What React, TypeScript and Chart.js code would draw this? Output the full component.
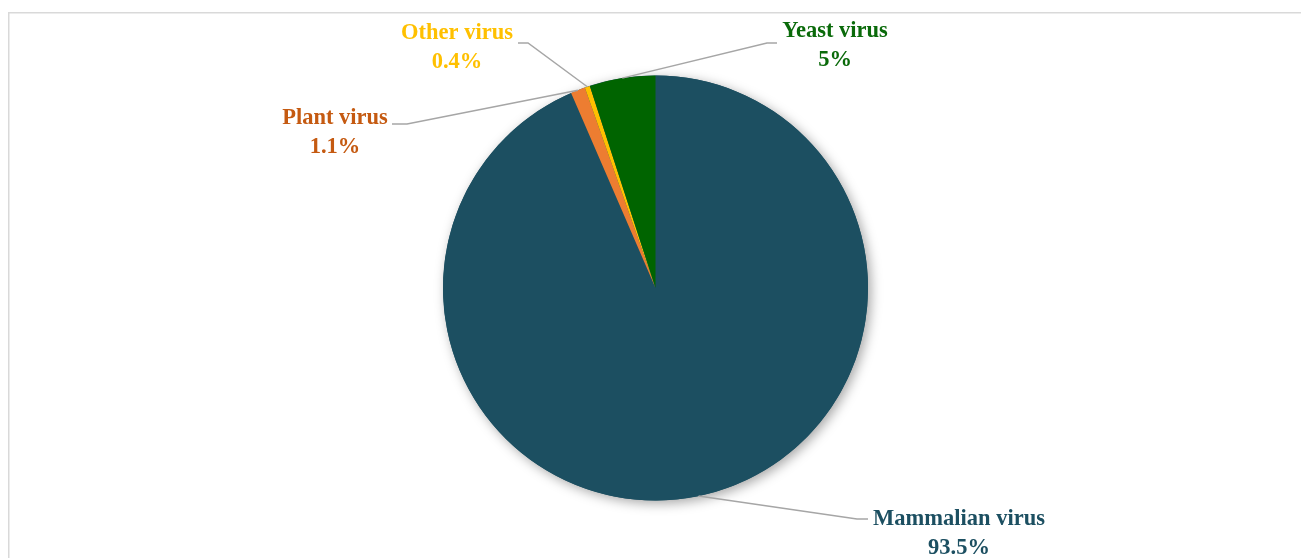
import React, { useEffect, useRef } from "react";
import { Chart, registerables } from "chart.js";

Chart.register(...registerables);

const categories = ["Mammalian virus", "Plant virus", "Other virus", "Yeast virus"];
const values = [93.5, 1.1, 0.4, 5];
const valueLabels = ["93.5%", "1.1%", "0.4%", "5%"];

const sliceColors = ["#1C4F61", "#ED7D31", "#FFC000", "#006400"];
const labelColors = ["#1C4F61", "#C55A11", "#FFC000", "#0A6A0A"];

// label placement (elbow point, end of horizontal leader, text centre)
const labelLayout = [
  { ex: 857, ey: 519, hx: 868, tx: 959, ty: 519 },
  { ex: 407, ey: 124, hx: 392, tx: 335, ty: 118 },
  { ex: 528, ey: 43, hx: 518, tx: 457, ty: 33 },
  { ex: 767, ey: 43, hx: 777, tx: 835, ty: 31 },
];

const framePlugin = {
  id: "frame",
  beforeDraw(chart: any) {
    const ctx = chart.ctx;
    ctx.save();
    ctx.fillStyle = "#ffffff";
    ctx.fillRect(0, 0, chart.width, chart.height);
    ctx.strokeStyle = "#D9D9D9";
    ctx.lineWidth = 1.5;
    ctx.strokeRect(8.75, 12.75, 1500, 800);
    ctx.restore();
  },
  beforeDatasetsDraw(chart: any) {
    const meta = chart.getDatasetMeta(0);
    const arc = meta.data[0];
    if (!arc) return;
    const ctx = chart.ctx;
    ctx.save();
    ctx.shadowColor = "rgba(0,0,0,0.35)";
    ctx.shadowBlur = 12;
    ctx.shadowOffsetX = 3;
    ctx.shadowOffsetY = 3;
    ctx.fillStyle = sliceColors[0];
    ctx.beginPath();
    ctx.arc(arc.x, arc.y, arc.outerRadius, 0, Math.PI * 2);
    ctx.fill();
    ctx.restore();
  },
  afterDatasetsDraw(chart: any) {
    const meta = chart.getDatasetMeta(0);
    const ctx = chart.ctx;
    ctx.save();
    meta.data.forEach((arc: any, i: number) => {
      const mid = (arc.startAngle + arc.endAngle) / 2;
      const sx = arc.x + Math.cos(mid) * arc.outerRadius;
      const sy = arc.y + Math.sin(mid) * arc.outerRadius;
      const L = labelLayout[i];
      ctx.strokeStyle = "#A6A6A6";
      ctx.lineWidth = 1.5;
      ctx.beginPath();
      ctx.moveTo(sx, sy);
      ctx.lineTo(L.ex, L.ey);
      ctx.lineTo(L.hx, L.ey);
      ctx.stroke();
      ctx.fillStyle = labelColors[i];
      ctx.font = "bold 22.5px 'Liberation Serif', serif";
      ctx.textAlign = "center";
      ctx.textBaseline = "middle";
      ctx.fillText(categories[i], L.tx, L.ty);
      ctx.fillText(valueLabels[i], L.tx, L.ty + 29);
    });
    ctx.restore();
  },
};

export default function App() {
  const ref = useRef<HTMLCanvasElement>(null);
  useEffect(() => {
    if (!ref.current) return;
    const chart = new Chart(ref.current, {
      type: "pie",
      data: {
        labels: categories,
        datasets: [
          {
            data: values,
            backgroundColor: sliceColors,
            borderWidth: 0,
          },
        ],
      },
      options: {
        responsive: false,
        animation: false,
        layout: { padding: { left: 443, right: 433, top: 75.5, bottom: 57.5 } },
        plugins: {
          legend: { display: false },
          tooltip: { enabled: false },
        },
      },
      plugins: [framePlugin],
    });
    return () => chart.destroy();
  }, []);
  return (
    <div style={{ position: "absolute", left: 0, top: 0, width: 1301, height: 558 }}>
      <canvas ref={ref} width={1301} height={558} style={{ display: "block" }} />
    </div>
  );
}
